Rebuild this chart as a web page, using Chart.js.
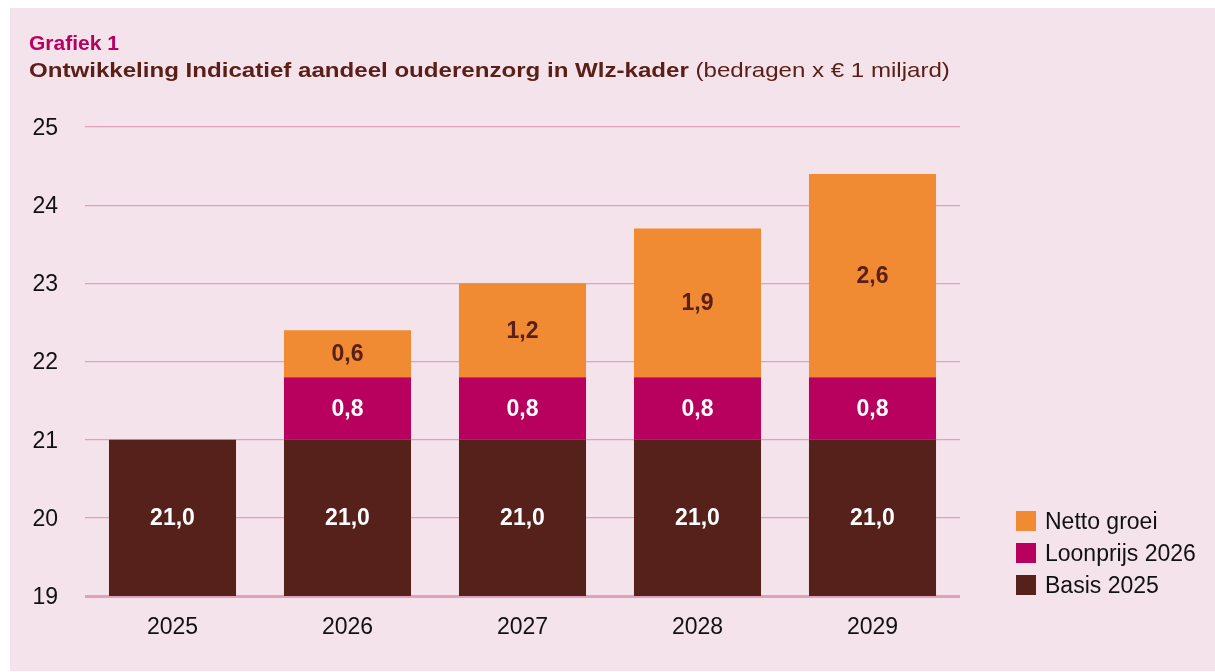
<!DOCTYPE html>
<html>
<head>
<meta charset="utf-8">
<script src="https://cdn.jsdelivr.net/npm/chart.js@4.4.1/dist/chart.umd.min.js"></script>
<style>
  html, body { margin: 0; padding: 0; background: #ffffff; }
  #wrap { position: relative; width: 1215px; height: 672px; overflow: hidden; font-family: "Liberation Sans", Arial, sans-serif; }
  #panel { position: absolute; left: 10px; top: 8px; width: 1205px; height: 663px; background: #f5e3ec; }
  #c { position: absolute; left: 0; top: 0; }
  .t1 { position: absolute; left: 29px; top: 31px; font-size: 21px; font-weight: bold; color: #b8005f; white-space: nowrap; }
  .t2 { position: absolute; left: 29px; top: 58px; font-size: 21px; color: #5a2018; white-space: nowrap; transform: scaleX(1.147); transform-origin: left top; }
  .t2 b { font-weight: bold; }
  #legend { position: absolute; left: 1016px; top: 505px; }
  .li { display: flex; align-items: center; height: 32px; font-size: 23px; color: #111; }
  .sw { width: 20px; height: 20px; margin-right: 9px; }
</style>
</head>
<body>
<div id="wrap">
  <div id="panel"></div>
  <canvas id="c" width="1215" height="672"></canvas>
  <div class="t1">Grafiek 1</div>
  <div class="t2"><b>Ontwikkeling Indicatief aandeel ouderenzorg in Wlz-kader</b> (bedragen x € 1 miljard)</div>
  <div id="legend"></div>
</div>
<script>
const categories = ["2025", "2026", "2027", "2028", "2029"];
const basis2025 = [21.0, 21.0, 21.0, 21.0, 21.0];
const loonprijs2026 = [0, 0.8, 0.8, 0.8, 0.8];
const nettoGroei = [0, 0.6, 1.2, 1.9, 2.6];
const seriesNames = ["Basis 2025", "Loonprijs 2026", "Netto groei"];
const yTicks = [19, 20, 21, 22, 23, 24, 25];

const colors = ["#55211a", "#b8005f", "#f08a33"];
const labelColors = ["#ffffff", "#ffffff", "#5a2018"];
const FONT = '"Liberation Sans", Arial, sans-serif';

const valueLabels = {
  id: 'valueLabels',
  afterDatasetsDraw(chart) {
    const ctx = chart.ctx;
    const area = chart.chartArea;
    ctx.save();
    ctx.font = 'bold 23px ' + FONT;
    ctx.textAlign = 'center';
    ctx.textBaseline = 'middle';
    chart.data.datasets.forEach((ds, di) => {
      const meta = chart.getDatasetMeta(di);
      meta.data.forEach((el, i) => {
        const v = ds.data[i];
        if (!v) return;
        const p = el.getProps(['x', 'y', 'base'], true);
        const top = Math.max(area.top, Math.min(p.y, p.base));
        const bot = Math.min(area.bottom, Math.max(p.y, p.base));
        ctx.fillStyle = labelColors[di];
        ctx.fillText(v.toFixed(1).replace('.', ','), p.x, (top + bot) / 2 + 1);
      });
    });
    ctx.restore();
  }
};

new Chart(document.getElementById('c'), {
  type: 'bar',
  data: {
    labels: categories,
    datasets: [
      { label: seriesNames[0], data: basis2025, backgroundColor: colors[0] },
      { label: seriesNames[1], data: loonprijs2026, backgroundColor: colors[1] },
      { label: seriesNames[2], data: nettoGroei, backgroundColor: colors[2] }
    ]
  },
  options: {
    responsive: false,
    animation: false,
    devicePixelRatio: 1,
    layout: { padding: { left: 10, right: 255, top: 127, bottom: 0 } },
    datasets: { bar: { categoryPercentage: 1, barPercentage: 0.726 } },
    plugins: { legend: { display: false }, tooltip: { enabled: false }, title: { display: false } },
    scales: {
      x: {
        stacked: true,
        grid: { display: false },
        border: { display: false },
        ticks: { color: '#111', font: { family: FONT, size: 23 }, padding: 10 },
        afterFit(scale) { scale.height = 76; }
      },
      y: {
        stacked: true,
        min: 19, max: 25,
        afterBuildTicks(scale) { scale.ticks = yTicks.map(v => ({ value: v })); },
        grid: {
          color: '#dea3bb',
          lineWidth: (c) => (c.tick && c.tick.value === 19 ? 3 : 1.3),
          drawTicks: false
        },
        border: { display: false },
        ticks: { color: '#111', font: { family: FONT, size: 23 }, padding: 27, labelOffset: 1.5 },
        afterFit(scale) { scale.width = 75; }
      }
    }
  },
  plugins: [valueLabels]
});

const lg = document.getElementById('legend');
[2, 1, 0].forEach(i => {
  const row = document.createElement('div');
  row.className = 'li';
  const sw = document.createElement('div');
  sw.className = 'sw';
  sw.style.background = colors[i];
  const tx = document.createElement('span');
  tx.textContent = seriesNames[i];
  row.appendChild(sw); row.appendChild(tx);
  lg.appendChild(row);
});
</script>
</body>
</html>
